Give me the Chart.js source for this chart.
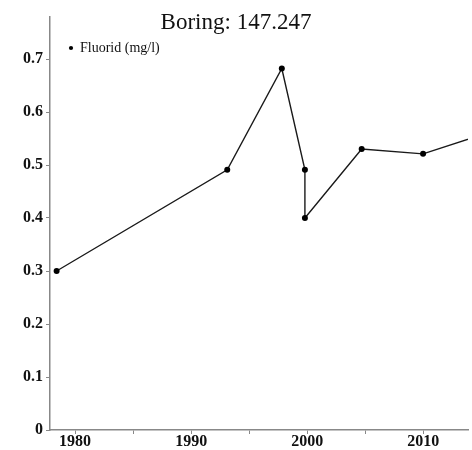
<!DOCTYPE html>
<html>
<head>
<meta charset="utf-8">
<script src="https://cdn.jsdelivr.net/npm/chart.js@4/dist/chart.umd.min.js"></script>
<style>
  body { margin: 0; background: #fff; }
</style>
</head>
<body>
<canvas id="myChart" width="472" height="450"></canvas>
<script>
// sample dates (decimal years) and fluoride values
const years = [1978.41, 1993.11, 1997.81, 1999.8, 1999.8, 2004.69, 2009.98, 2015.0];
const fluorid = [0.30, 0.491, 0.682, 0.491, 0.40, 0.530, 0.521, 0.557];
const seriesLabel = 'Fluorid (mg/l)';
const titleText = 'Boring: 147.247';

const serif = "'Liberation Serif', 'Times New Roman', serif";
const axisGray = '#888';

const ctx = document.getElementById('myChart').getContext('2d');

let graphData = {
    type: 'line',
    data: {
        datasets: [{
            label: seriesLabel,
            data: years.map((x, i) => ({ x: x, y: fluorid[i] })),
            borderColor: '#1a1a1a',
            backgroundColor: '#000',
            borderWidth: 1.4,
            pointRadius: 3,
            pointBorderWidth: 0,
            tension: 0
        }]
    },
    options: {
        responsive: false,
        animation: false,
        layout: { padding: 0 },
        plugins: {
            title: {
                display: true,
                text: titleText,
                color: '#111',
                font: { family: serif, size: 23, weight: 'normal' },
                padding: { top: 9, bottom: -20 }
            },
            legend: {
                position: 'chartArea',
                align: 'start',
                // blank title just pushes the entry down a bit
                title: { display: true, text: ' ', padding: 0, font: { size: 22, lineHeight: 1 } },
                labels: {
                    usePointStyle: true,
                    pointStyle: 'circle',
                    boxWidth: 4,
                    boxHeight: 3,
                    padding: 19,
                    color: '#111',
                    font: { family: serif, size: 14 }
                }
            },
            tooltip: { enabled: false }
        },
        scales: {
            x: {
                type: 'linear',
                min: 1977.84,
                max: 2013.85,
                border: { color: axisGray, width: 1.5 },
                grid: { display: true, drawOnChartArea: false, drawTicks: true, tickLength: 4, color: axisGray },
                afterBuildTicks: s => { s.ticks = s.ticks.filter(t => t.value >= s.min && t.value <= s.max); },
                ticks: {
                    stepSize: 5,
                    includeBounds: false,
                    autoSkip: false,
                    maxRotation: 0,
                    padding: 0,
                    color: '#111',
                    font: { family: serif, size: 16, weight: 'bold', lineHeight: 1 },
                    callback: v => (v % 10 === 0 ? String(v) : '')
                }
            },
            y: {
                min: 0,
                max: 0.78,
                afterFit: s => { s.width = 50; },
                border: { color: axisGray, width: 1.5 },
                grid: { display: true, drawOnChartArea: false, drawTicks: true, tickLength: 4, color: axisGray },
                ticks: {
                    stepSize: 0.1,
                    includeBounds: false,
                    padding: 3,
                    color: '#111',
                    font: { family: serif, size: 16, weight: 'bold' }
                }
            }
        }
    }
};
const myChart = new Chart(ctx, graphData);
</script>
</body>
</html>
